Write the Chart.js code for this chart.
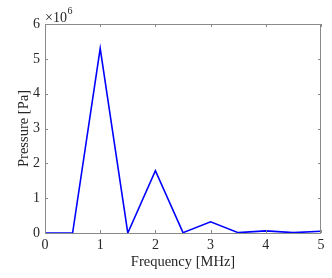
<!DOCTYPE html>
<html>
<head>
<meta charset="utf-8">
<script src="https://cdn.jsdelivr.net/npm/chart.js@4.4.1/dist/chart.umd.min.js"></script>
<style>
  html, body { margin: 0; padding: 0; background: #fff; }
  #wrap { width: 332px; height: 278px; position: relative; }
</style>
</head>
<body>
<div id="wrap"><canvas id="c" width="332" height="278"></canvas></div>
<script>
const frequencies = [0, 0.5, 1, 1.5, 2, 2.5, 3, 3.5, 4, 4.5, 5];
const pressures = [0, 0, 5.30e6, 0, 1.79e6, 0.01e6, 0.32e6, 0.01e6, 0.06e6, 0.01e6, 0.05e6];
const xTicks = [0, 1, 2, 3, 4, 5];
const yTicks = [0, 1, 2, 3, 4, 5, 6];
const yExponent = 6;
const xTitle = 'Frequency [MHz]';
const yTitle = 'Pressure [Pa]';

const FONT = "'Liberation Serif', 'DejaVu Serif', serif";
const AXIS = '#8a8a8a';
const TEXT = '#262626';

const boxPlugin = {
  id: 'matlabBox',
  afterDatasetsDraw(chart) {
    const {ctx, chartArea: a, scales: {x, y}} = chart;
    ctx.save();
    ctx.strokeStyle = AXIS;
    ctx.lineWidth = 1;
    ctx.beginPath();
    ctx.rect(Math.round(a.left) + 0.5, Math.round(a.top) + 0.5,
             Math.round(a.right - a.left) - 1, Math.round(a.bottom - a.top));
    const tl = 3;
    xTicks.forEach(v => {
      const px = Math.round(x.getPixelForValue(v)) + 0.5;
      ctx.moveTo(px, a.bottom); ctx.lineTo(px, a.bottom - tl);
      ctx.moveTo(px, a.top); ctx.lineTo(px, a.top + tl);
    });
    yTicks.forEach(v => {
      const py = Math.round(y.getPixelForValue(v * Math.pow(10, yExponent))) + 0.5;
      ctx.moveTo(a.left, py); ctx.lineTo(a.left + tl, py);
      ctx.moveTo(a.right, py); ctx.lineTo(a.right - tl, py);
    });
    ctx.stroke();
    // exponent label
    ctx.fillStyle = TEXT;
    ctx.textBaseline = 'alphabetic';
    ctx.textAlign = 'left';
    ctx.font = "14px " + FONT;
    const base = '\u00d710';
    ctx.fillText(base, a.left, a.top - 2.5);
    const w = ctx.measureText(base).width;
    ctx.font = "10px " + FONT;
    ctx.fillText(String(yExponent), a.left + w + 0.5, a.top - 10);
    ctx.restore();
  }
};

new Chart(document.getElementById('c'), {
  type: 'line',
  data: {
    datasets: [{
      data: frequencies.map((f, i) => ({x: f, y: pressures[i]})),
      borderColor: '#0000ff',
      borderWidth: 1.6,
      pointRadius: 0,
      tension: 0,
      fill: false
    }]
  },
  options: {
    responsive: false,
    animation: false,
    devicePixelRatio: 1,
    layout: { padding: { left: 0, right: 11, top: 24, bottom: 0 } },
    plugins: { legend: { display: false }, tooltip: { enabled: false } },
    scales: {
      x: {
        type: 'linear', min: 0, max: 5,
        afterFit(s) { s.height = 45; },
        afterBuildTicks(s) { s.ticks = xTicks.map(v => ({value: v})); },
        grid: { display: false, drawTicks: false },
        border: { display: false },
        ticks: { color: TEXT, font: { family: FONT, size: 14 }, padding: 4, maxRotation: 0,
                 callback: v => String(v) },
        title: { display: true, text: xTitle, color: TEXT, font: { family: FONT, size: 14.5 },
                 padding: { top: 0, bottom: 7 } }
      },
      y: {
        type: 'linear', min: 0, max: 6e6,
        afterFit(s) { s.width = 45; },
        afterBuildTicks(s) { s.ticks = yTicks.map(v => ({value: v * Math.pow(10, yExponent)})); },
        grid: { display: false, drawTicks: false },
        border: { display: false },
        ticks: { color: TEXT, font: { family: FONT, size: 14 }, padding: 5,
                 callback: v => String(Math.round(v / Math.pow(10, yExponent))) },
        title: { display: true, text: yTitle, color: TEXT, font: { family: FONT, size: 14.5 },
                 padding: { top: 15, bottom: 0 } }
      }
    }
  },
  plugins: [boxPlugin]
});
</script>
</body>
</html>
